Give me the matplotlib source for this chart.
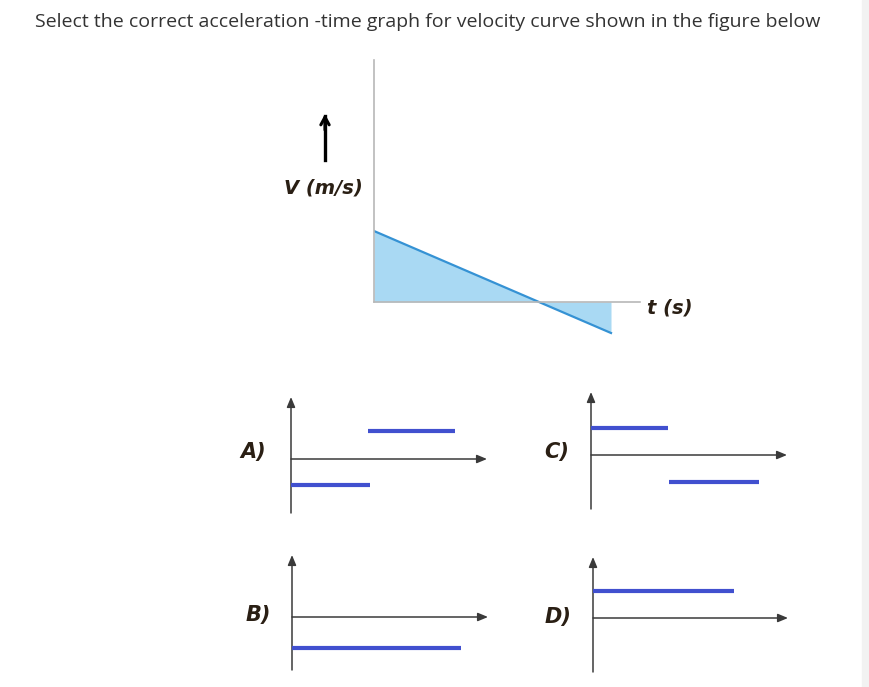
import matplotlib.pyplot as plt
from matplotlib.patches import Rectangle

W, H = 870, 687

# velocity curve (t in s, v in m/s)
t_vel = [0, 10]
v_vel = [7.1, -3.1]

# answer options: segments of constant acceleration
opt_labels = ["A)", "B)", "C)", "D)"]
opt_t = {
    "A)": [(0, 4.75), (4.65, 9.9)],
    "B)": [(0, 10.2)],
    "C)": [(0, 4.65), (4.7, 10.1)],
    "D)": [(0, 8.5)],
}
opt_a = {
    "A)": [-0.95, 1.05],
    "B)": [-1.15],
    "C)": [1.0, -1.0],
    "D)": [1.0],
}

title = "Select the correct acceleration -time graph for velocity curve shown in the figure below"


def fx(px):
    return px / W


def fy(py):
    return 1 - py / H


fig = plt.figure(figsize=(W / 100, H / 100), dpi=100)
fig.patches.append(Rectangle((fx(862), 0), fx(8), 1, transform=fig.transFigure,
                             color="#f2f2f2", zorder=0))

fig.text(fx(35), fy(22), title, fontsize=14, family="Open Sans",
         color="#333333", va="center", ha="left")

lab_font = dict(family="DejaVu Sans", style="oblique", weight="bold", color="#2a1f14")


def make_axes(ox, oy, top, bottom, right, sx, sy):
    ax = fig.add_axes([fx(ox), fy(bottom), (right - ox) / W, (bottom - top) / H])
    ax.set_xlim(0, (right - ox) / sx)
    ax.set_ylim(-(bottom - oy) / sy, (oy - top) / sy)
    ax.patch.set_visible(False)
    ax.set_xticks([])
    ax.set_yticks([])
    return ax


# velocity-time graph
ax = make_axes(374, 302, 60, 345, 640, 23.7, 10)
for s in ["top", "right"]:
    ax.spines[s].set_visible(False)
ax.spines["bottom"].set_position(("data", 0))
ax.spines["left"].set_bounds(0, ax.get_ylim()[1])
for s in ["left", "bottom"]:
    ax.spines[s].set_color("#b8b8b8")
    ax.spines[s].set_linewidth(1.2)
ax.fill_between(t_vel, v_vel, 0, color="#a9d9f3", lw=0, zorder=1)
ax.plot(t_vel, v_vel, color="#3592d4", lw=1.6, zorder=2)

fig.text(fx(323), fy(188), "V (m/s)", fontsize=14, ha="center", va="center", **lab_font)
fig.text(fx(647), fy(308), "t (s)", fontsize=14, ha="left", va="center", **lab_font)
fig.add_artist(plt.Line2D([fx(325), fx(325)], [fy(160), fy(116)], color="black", lw=2.4))
ax.annotate("", xy=(fx(325), fy(114)), xytext=(fx(325), fy(130)),
            xycoords="figure fraction", textcoords="figure fraction",
            arrowprops=dict(arrowstyle="->,head_length=0.55,head_width=0.3",
                            color="black", lw=2.2, shrinkA=0, shrinkB=0))

# option graphs
layout = {
    "A)": (291, 459, 397, 513, 487, 253, 452),
    "B)": (292, 617, 555, 670, 488, 258, 615),
    "C)": (591, 455, 392, 509, 787, 557, 452),
    "D)": (593, 618, 557, 672, 788, 558, 617),
}
for lab in opt_labels:
    ox, oy, top, bottom, right, lx, ly = layout[lab]
    ax = make_axes(ox, oy, top, bottom, right, 16.6, 27)
    for s in ax.spines.values():
        s.set_visible(False)
    ax.annotate("", xy=(0, 1), xytext=(0, 0), xycoords="axes fraction",
                arrowprops=dict(arrowstyle="-|>,head_length=0.6,head_width=0.25",
                                color="#3a3a3a", lw=1.1, shrinkA=0, shrinkB=0))
    ax.annotate("", xy=(1, 0), xytext=(0, 0), xycoords=ax.get_yaxis_transform(),
                arrowprops=dict(arrowstyle="-|>,head_length=0.6,head_width=0.25",
                                color="#3a3a3a", lw=1.1, shrinkA=0, shrinkB=0))
    for (t0, t1), a in zip(opt_t[lab], opt_a[lab]):
        ax.plot([t0, t1], [a, a], color="#4150cf", lw=3, solid_capstyle="butt",
                clip_on=False, zorder=3)
    fig.text(fx(lx), fy(ly), lab, fontsize=15, ha="center", va="center", **lab_font)

fig.savefig("out.png", dpi=100)
